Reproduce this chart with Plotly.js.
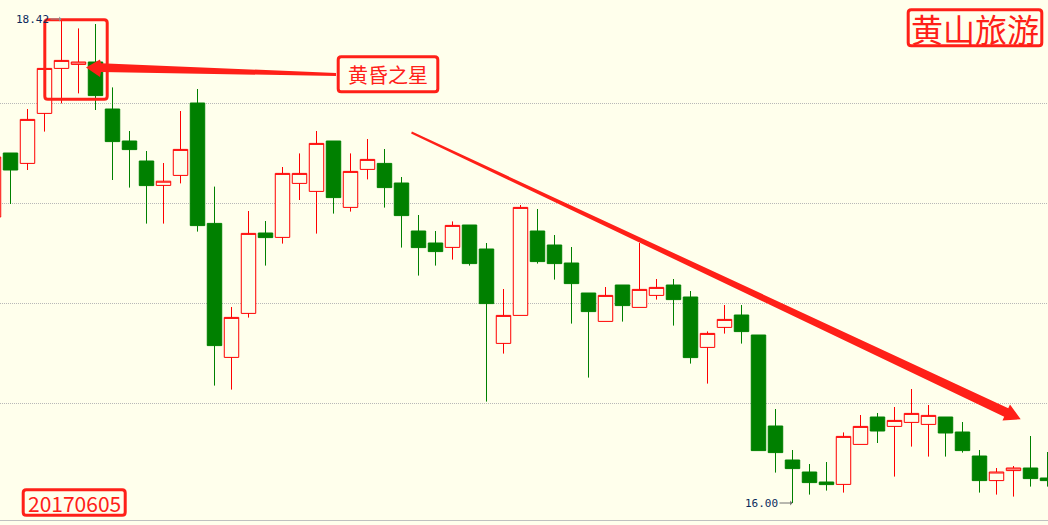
<!DOCTYPE html>
<html>
<head>
<meta charset="utf-8">
<script src="https://cdn.plot.ly/plotly-3.0.1.min.js"></script>
<style>
html,body{margin:0;padding:0;background:#ffffec;}
#chart{width:1048px;height:525px;}
</style>
</head>
<body>
<div id="chart"></div>
<script>
// ---- data ----
const dayIndex = [];
for (let i = -1; i <= 61; i++) dayIndex.push(i);

const openPrice = [17.43,
 17.75,17.698,17.948,18.173,18.193,18.205,17.97,17.81,17.71,17.588,
 17.638,18.0,17.398,16.728,16.948,17.35,17.328,17.598,17.558,17.81,
 17.478,17.668,17.698,17.60,17.36,17.30,17.278,17.39,17.27,16.798,
 16.938,17.36,17.29,17.20,17.05,16.908,17.09,16.978,17.038,17.09,
 17.03,16.778,16.878,16.94,16.84,16.385,16.215,16.155,16.105,16.093,
 16.293,16.43,16.383,16.403,16.393,16.43,16.355,16.235,16.112,16.162,
 16.175,16.125];
const highPrice = [17.75,
 17.75,17.97,18.175,18.42,18.373,18.395,18.078,17.86,17.76,17.70,
 17.96,18.07,17.582,16.98,17.46,17.41,17.68,17.748,17.86,17.81,
 17.748,17.82,17.77,17.63,17.44,17.36,17.408,17.39,17.30,17.07,
 17.49,17.47,17.34,17.28,17.05,17.08,17.09,17.30,17.12,17.12,
 17.06,16.858,16.99,16.99,16.84,16.47,16.265,16.195,16.205,16.353,
 16.44,16.45,16.48,16.57,16.49,16.43,16.405,16.265,16.175,16.185,
 16.335,16.255];
const lowPrice = [17.42,
 17.495,17.665,17.857,17.998,18.048,17.965,17.615,17.577,17.397,17.397,
 17.598,17.357,16.587,16.567,16.927,17.187,17.297,17.515,17.347,17.447,
 17.457,17.618,17.477,17.277,17.137,17.187,17.217,17.187,16.507,16.747,
 16.938,17.197,17.117,16.897,16.627,16.908,16.907,16.978,17.017,16.887,
 16.697,16.597,16.847,16.797,16.262,16.152,16.00,16.042,16.062,16.052,
 16.293,16.30,16.132,16.282,16.232,16.232,16.252,16.052,16.042,16.032,
 16.082,16.082];
const closePrice = [17.73,
 17.665,17.918,18.173,18.213,18.205,18.037,17.807,17.767,17.587,17.609,
 17.768,17.387,16.787,16.928,17.348,17.327,17.648,17.648,17.798,17.527,
 17.658,17.718,17.577,17.437,17.277,17.257,17.388,17.197,16.997,16.938,
 17.478,17.207,17.197,17.097,16.957,17.038,16.987,17.068,17.078,17.017,
 16.727,16.848,16.918,16.857,16.262,16.252,16.172,16.102,16.092,16.333,
 16.383,16.36,16.413,16.448,16.438,16.35,16.262,16.112,16.155,16.175,
 16.122,16.112];

const maxLabel = "18.42";
const minLabel = "16.00";
const stockName = "黄山旅游";
const patternName = "黄昏之星";
const dateLabel = "20170605";

// ---- styling ----
const BG = "#ffffec";
const RED = "#ff2018";
const W = 1048, PH = 520;
const PX = px => px / W;
const PY = py => 1 - py / PH;
function poly(pts) {
  return "M" + pts.map(p => PX(p[0]).toFixed(5) + "," + PY(p[1]).toFixed(5)).join("L") + "Z";
}
function rrect(x0, y0, x1, y1, r) {
  const P = (x, y) => PX(x).toFixed(5) + "," + PY(y).toFixed(5);
  return "M" + P(x0 + r, y0) + "L" + P(x1 - r, y0) + "Q" + P(x1, y0) + " " + P(x1, y0 + r) +
    "L" + P(x1, y1 - r) + "Q" + P(x1, y1) + " " + P(x1 - r, y1) +
    "L" + P(x0 + r, y1) + "Q" + P(x0, y1) + " " + P(x0, y1 - r) +
    "L" + P(x0, y0 + r) + "Q" + P(x0, y0) + " " + P(x0 + r, y0) + "Z";
}
function boxShape(x0, y0, x1, y1) {
  return {type: "path", xref: "paper", yref: "paper", path: rrect(x0, y0, x1, y1, 3),
          line: {color: RED, width: 3}, fillcolor: "rgba(0,0,0,0)"};
}
function arrowShape(pts) {
  return {type: "path", xref: "paper", yref: "paper", path: poly(pts),
          line: {width: 0}, fillcolor: RED};
}

// trend arrow geometry (pixels)
const tail = [411.5, 132.5], tip = [1020.7, 419.3];
const dx = tip[0] - tail[0], dy = tip[1] - tail[1], L = Math.hypot(dx, dy);
const ux = dx / L, uy = dy / L, nx = -uy, ny = ux;
const base = [tip[0] - ux * 16, tip[1] - uy * 16];
const off = (p, h) => [p[0] + nx * h, p[1] + ny * h];
const trendPts = [off(tail, -1), off(base, -4.8), off(base, -8.8), tip, off(base, 8.8), off(base, 4.8), off(tail, 1)];

const starArrowPts = [[336, 73], [101, 63.2], [100, 59.5], [86, 67.5], [100, 77], [101, 72], [336, 76]];

const trace = {
  type: "candlestick",
  x: dayIndex, open: openPrice, high: highPrice, low: lowPrice, close: closePrice,
  increasing: {line: {color: "#ff0000", width: 1}, fillcolor: BG},
  decreasing: {line: {color: "#008000", width: 1}, fillcolor: "#008000"},
  whiskerwidth: 0,
  hoverinfo: "skip"
};

const layout = {
  width: 1048, height: 525,
  margin: {l: 0, r: 0, t: 0, b: 5, pad: 0},
  paper_bgcolor: BG, plot_bgcolor: BG,
  showlegend: false,
  boxgap: 0.15,
  boxgroupgap: 0,
  xaxis: {range: [-0.6176, 61.0294], showgrid: false, zeroline: false, showticklabels: false,
          ticks: "", showline: true, linecolor: "#c0c0c0", linewidth: 1,
          rangeslider: {visible: false}, fixedrange: true},
  yaxis: {range: [15.915, 18.515], tickvals: [16.5, 17, 17.5, 18], showticklabels: false,
          ticks: "", showgrid: true, gridcolor: "#b8b8b8", gridwidth: 1, griddash: "1px,1px",
          zeroline: false, showline: false, fixedrange: true},
  shapes: [
    boxShape(44.8, 19.8, 107.2, 99.2),
    boxShape(338.2, 56.8, 437.8, 91.8),
    boxShape(908.2, 9.8, 1041.8, 45.8),
    boxShape(23.2, 489.8, 125.2, 515.2),
    arrowShape(starArrowPts),
    arrowShape(trendPts)
  ],
  annotations: [
    {xref: "paper", yref: "paper", x: PX(388), y: PY(74.5), text: patternName, showarrow: false,
     font: {family: "Noto Sans CJK SC", size: 20, color: RED}, xanchor: "center", yanchor: "middle"},
    {xref: "paper", yref: "paper", x: PX(975), y: PY(28), text: stockName, showarrow: false,
     font: {family: "Noto Sans CJK SC", size: 32, color: RED}, xanchor: "center", yanchor: "middle"},
    {xref: "paper", yref: "paper", x: PX(74.2), y: PY(502.5), text: dateLabel, showarrow: false,
     font: {family: "Noto Sans CJK SC", size: 21, color: RED}, xanchor: "center", yanchor: "middle"},
    {x: 3, y: 18.42, text: maxLabel, showarrow: true, axref: "pixel", ayref: "pixel",
     ax: -29, ay: 0, arrowhead: 1, arrowsize: 0.8, arrowwidth: 1, arrowcolor: "#909090",
     font: {family: "DejaVu Sans Mono", size: 11, color: "#0b2a5c"}},
    {x: 46, y: 16.00, text: minLabel, showarrow: true, axref: "pixel", ayref: "pixel",
     ax: -31, ay: 0, arrowhead: 1, arrowsize: 0.8, arrowwidth: 1, arrowcolor: "#707070",
     font: {family: "DejaVu Sans Mono", size: 11, color: "#0b2a5c"}}
  ]
};

Plotly.newPlot("chart", [trace], layout, {displayModeBar: false, staticPlot: true});
</script>
</body>
</html>
